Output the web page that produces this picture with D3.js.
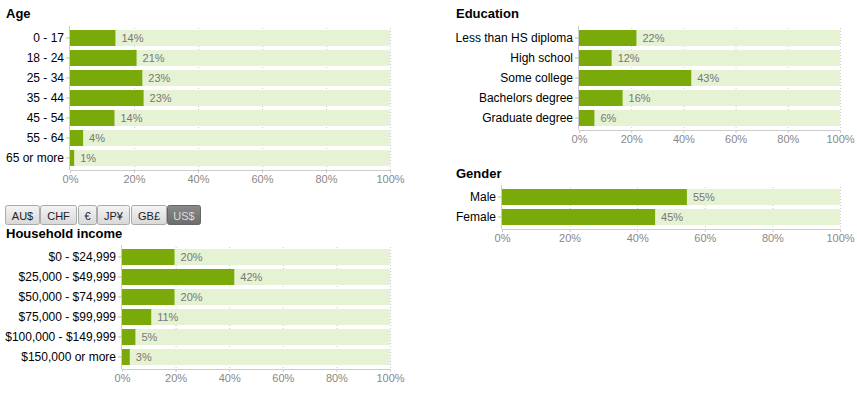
<!DOCTYPE html>
<html><head><meta charset="utf-8">
<script src="https://cdn.jsdelivr.net/npm/d3@7"></script>
<style>
body{margin:0;background:#fff;font-family:"Liberation Sans",Arial,sans-serif;}
svg text{font-family:"Liberation Sans",Arial,sans-serif;}
</style></head>
<body><svg id="c" width="857" height="395"></svg>
<script>
const ageCategories = ["0 - 17","18 - 24","25 - 34","35 - 44","45 - 54","55 - 64","65 or more"];
const ageValues = [14.2, 20.8, 22.6, 23.0, 13.9, 4.1, 1.3];
const ageLabels = ["14%","21%","23%","23%","14%","4%","1%"];

const incomeCategories = ["$0 - $24,999","$25,000 - $49,999","$50,000 - $74,999","$75,000 - $99,999","$100,000 - $149,999","$150,000 or more"];
const incomeValues = [19.6, 41.9, 19.6, 10.9, 5.0, 2.9];
const incomeLabels = ["20%","42%","20%","11%","5%","3%"];

const eduCategories = ["Less than HS diploma","High school","Some college","Bachelors degree","Graduate degree"];
const eduValues = [22.0, 12.5, 43.0, 16.7, 5.9];
const eduLabels = ["22%","12%","43%","16%","6%"];

const genderCategories = ["Male","Female"];
const genderValues = [54.7, 45.3];
const genderLabels = ["55%","45%"];

const tickValues = [0,20,40,60,80,100];
const currencies = ["AU$","CHF","€","JP¥","GB£","US$"];

const svg = d3.select("#c");

function panel(opt){
  const g = svg.append("g");
  g.append("text").attr("x", opt.titleX).attr("y", opt.titleY)
    .attr("font-size", 13).attr("font-weight", "bold").attr("fill", "#000").text(opt.title);
  const x = d3.scaleLinear().domain([0,100]).range([opt.x0, opt.x1]);
  const n = opt.cats.length;
  const y = d3.scaleBand().domain(opt.cats).range([opt.yTop, opt.yTop + n*20]).paddingInner(0.2).paddingOuter(0.1);
  const bottom = opt.yTop + n*20 + 2;
  // grid
  g.selectAll(".grid").data(tickValues.slice(1)).join("line")
    .attr("x1", d=>x(d)+0.5).attr("x2", d=>x(d)+0.5)
    .attr("y1", opt.yTop).attr("y2", bottom)
    .attr("stroke", "#ccc").attr("stroke-dasharray", "1,2");
  // background bars
  g.selectAll(".bg").data(opt.cats).join("rect")
    .attr("x", x(0)).attr("y", d=>y(d)).attr("width", x(100)-x(0)).attr("height", y.bandwidth())
    .attr("fill", "#e5f2d3");
  g.selectAll(".bar").data(opt.vals).join("rect")
    .attr("x", x(0)).attr("y", (d,i)=>y(opt.cats[i])).attr("width", d=>x(d)-x(0)).attr("height", y.bandwidth())
    .attr("fill", "#7aaa0a");
  g.selectAll(".lab").data(opt.vals).join("text")
    .attr("x", d=>x(d)+6).attr("y", (d,i)=>y(opt.cats[i])+y.bandwidth()/2+4)
    .attr("font-size", 11).attr("fill", "#777").text((d,i)=>opt.labels[i]);
  // x axis
  const xa = g.append("g").attr("transform", `translate(0,${bottom})`)
    .call(d3.axisBottom(x).tickValues(tickValues).tickFormat(d=>d+"%").tickSize(3));
  xa.select(".domain").attr("stroke", "#ccc").attr("d", `M${x(0)},0.5H${x(100)}`);
  xa.selectAll(".tick line").attr("stroke", "#ccc");
  xa.selectAll(".tick text").attr("fill", "#888").attr("font-size", 11).attr("dy", "0.75em").attr("y", 5);
  // y axis
  const ya = g.append("g").attr("transform", `translate(${opt.x0},0)`)
    .call(d3.axisLeft(y).tickSize(4).tickPadding(2));
  ya.select(".domain").attr("stroke", "#ccc").attr("d", `M-0.5,${opt.yTop-2}V${bottom}`);
  ya.selectAll(".tick line").attr("stroke", "#bbb");
  ya.selectAll(".tick text").attr("fill", "#000").attr("font-size", 12);
}

panel({title:"Age", titleX:6, titleY:18, cats:ageCategories, vals:ageValues, labels:ageLabels, x0:70, x1:390, yTop:28});
panel({title:"Household income", titleX:6, titleY:238, cats:incomeCategories, vals:incomeValues, labels:incomeLabels, x0:122, x1:390, yTop:247});
panel({title:"Education", titleX:456, titleY:18, cats:eduCategories, vals:eduValues, labels:eduLabels, x0:579, x1:840, yTop:28});
panel({title:"Gender", titleX:456, titleY:178, cats:genderCategories, vals:genderValues, labels:genderLabels, x0:502, x1:840, yTop:187});

// currency buttons
const defs = svg.append("defs");
const lg = defs.append("linearGradient").attr("id","btn").attr("x1",0).attr("y1",0).attr("x2",0).attr("y2",1);
lg.append("stop").attr("offset","0%").attr("stop-color","#f4f4f4");
lg.append("stop").attr("offset","100%").attr("stop-color","#d8d8d8");
const lg2 = defs.append("linearGradient").attr("id","btnSel").attr("x1",0).attr("y1",0).attr("x2",0).attr("y2",1);
lg2.append("stop").attr("offset","0%").attr("stop-color","#8a8a8a");
lg2.append("stop").attr("offset","100%").attr("stop-color","#6c6c6c");
const btnX = [5,40,78,97,131,167];
const btnW = [34,36,18,32,35,33];
const bg = svg.append("g");
const bs = bg.selectAll("g").data(currencies).join("g").attr("transform",(d,i)=>`translate(${btnX[i]},205)`);
bs.append("rect").attr("x",0.5).attr("y",0.5).attr("width",(d,i)=>btnW[i]).attr("height",19).attr("rx",2)
  .attr("fill",(d,i)=>i===5?"url(#btnSel)":"url(#btn)").attr("stroke",(d,i)=>i===5?"#666":"#aaa");
bs.append("text").attr("x",(d,i)=>btnW[i]/2+0.5).attr("y",14.5).attr("text-anchor","middle")
  .attr("font-size",11).attr("fill",(d,i)=>i===5?"#ddd":"#222").text(d=>d);
</script></body></html>
